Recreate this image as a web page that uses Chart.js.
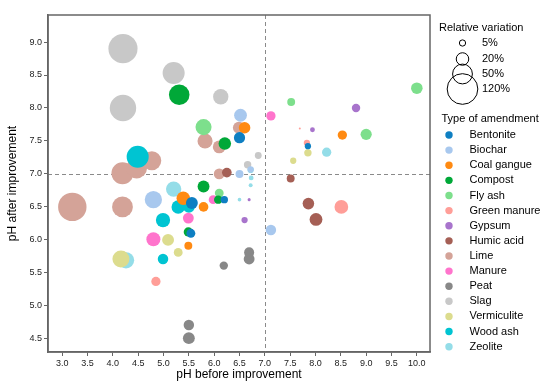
<!DOCTYPE html>
<html>
<head>
<meta charset="utf-8">
<script src="https://cdn.jsdelivr.net/npm/chart.js@4.4.1/dist/chart.umd.min.js"></script>
<style>
html,body{margin:0;padding:0;background:#fff;}
#wrap{width:550px;height:386px;position:relative;}
</style>
</head>
<body>
<div id="wrap"><canvas id="c" width="550" height="386"></canvas></div>
<script>
// [pH before, pH after, relative variation %]
const amendments = ['Bentonite','Biochar','Coal gangue','Compost','Fly ash','Green manure','Gypsum','Humic acid','Lime','Manure','Peat','Slag','Vermiculite','Wood ash','Zeolite'];
const colors = ['#0e7fc2','#a8c8ee','#ff8a12','#00a838','#7ddf8c','#ff9e98','#a874cc','#a55f55','#d4a398','#ff74cc','#888888','#c8c8c8','#dcdc8e','#00c4d2','#94dde8'];

const bentonite = [[6.5,7.55,16],[7.85,7.42,-5],[5.56,6.56,18],[6.2,6.61,7],[5.54,6.10,10]];
const biochar = [[6.52,7.89,21],[6.5,7.0,8],[4.8,6.61,38],[6.72,7.07,5],[7.12,6.15,-14]];
const coalGangue = [[6.6,7.7,17],[8.53,7.59,-11],[5.39,6.63,23],[5.79,6.5,12],[5.49,5.91,8]];
const compost = [[5.31,8.2,54],[6.21,7.46,20],[5.79,6.81,18],[6.08,6.61,9],[5.49,6.12,11]];
const flyAsh = [[5.79,7.71,33],[6.1,6.71,10],[7.52,8.09,8],[10.0,8.3,-17],[9.0,7.6,-16]];
const greenManure = [[8.51,6.5,-24],[4.85,5.37,11],[7.83,7.47,-5],[7.69,7.69,0.4]];
const gypsum = [[8.8,8.0,-9],[7.94,7.67,-3],[6.6,6.3,-5],[6.69,6.61,-1.2]];
const humicAcid = [[6.25,7.02,12],[7.51,6.93,-8],[7.86,6.55,-17],[8.01,6.31,-21]];
const lime = [[4.19,7.01,62],[4.47,7.09,55],[4.77,7.2,45],[3.2,6.5,103],[4.19,6.5,55],[5.82,7.5,29],[6.1,7.41,21],[6.49,7.7,19],[6.1,7.0,15]];
const manure = [[7.12,7.88,11],[5.98,6.61,10],[5.49,6.33,15],[4.8,6.01,25]];
const peat = [[6.69,5.81,-13],[6.69,5.71,-15],[6.19,5.61,-9],[5.5,4.71,-14],[5.5,4.51,-18]];
const slag = [[4.2,8.9,108],[4.2,8.0,89],[5.2,8.53,62],[6.13,8.17,30],[6.87,7.28,6],[6.66,7.14,7]];
const vermiculite = [[4.16,5.71,37],[5.09,6.0,18],[5.29,5.81,10],[7.85,7.32,-7],[7.56,7.2,-5]];
const woodAsh = [[4.49,7.26,62],[4.99,6.3,26],[4.99,5.71,14],[5.29,6.5,23],[5.5,6.5,18]];
const zeolite = [[5.2,6.77,30],[4.26,5.69,34],[8.22,7.33,-11],[6.72,7.06,5],[6.73,6.94,3],[6.72,6.83,2],[6.5,6.61,1.7]];

const seriesData = [bentonite,biochar,coalGangue,compost,flyAsh,greenManure,gypsum,humicAcid,lime,manure,peat,slag,vermiculite,woodAsh,zeolite];

const xTicks = [3.0,3.5,4.0,4.5,5.0,5.5,6.0,6.5,7.0,7.5,8.0,8.5,9.0,9.5,10.0];
const yTicks = [4.5,5.0,5.5,6.0,6.5,7.0,7.5,8.0,8.5,9.0];
const sizeLegendValues = [5,20,50,120];
const sizeLegendLabels = ['5%','20%','50%','120%'];
const refX = 7.0, refY = 7.0;

const FONT = "'Liberation Sans', Arial, sans-serif";
function radiusFor(v){ return Math.max(1, 1.4*Math.sqrt(Math.abs(v))); }

const datasets = seriesData.map((pts,i)=>({
  label: amendments[i],
  data: pts.map(p=>({x:p[0], y:p[1], r:radiusFor(p[2])})),
  backgroundColor: colors[i],
  borderWidth: 0,
  hoverBorderWidth: 0,
  order: amendments[i]==='Lime' ? 1 : 0
}));

const framePlugin = {
  id:'frame',
  beforeDatasetsDraw(chart){
    const {ctx, chartArea:a, scales:{x,y}} = chart;
    ctx.save();
    ctx.strokeStyle='#8a8a8a'; ctx.lineWidth=1; ctx.setLineDash([4,3]);
    const px = Math.round(x.getPixelForValue(refX))+0.5;
    const py = Math.round(y.getPixelForValue(refY))+0.5;
    ctx.beginPath(); ctx.moveTo(px,a.top); ctx.lineTo(px,a.bottom); ctx.stroke();
    ctx.beginPath(); ctx.moveTo(a.left,py); ctx.lineTo(a.right,py); ctx.stroke();
    ctx.restore();
  },
  afterDraw(chart){
    const {ctx, chartArea:a} = chart;
    ctx.save();
    ctx.strokeStyle='#666'; ctx.lineWidth=1.5; ctx.setLineDash([]);
    ctx.strokeRect(a.left, a.top, a.right-a.left, a.bottom-a.top);
    // legend
    ctx.fillStyle='#000'; ctx.textBaseline='middle'; ctx.textAlign='left';
    ctx.font = '11px '+FONT;
    ctx.fillText('Relative variation', 439, 28);
    const sy = [43,59,74,89];
    ctx.strokeStyle='#000'; ctx.lineWidth=1;
    sizeLegendValues.forEach((v,i)=>{
      ctx.beginPath(); ctx.arc(462.5, sy[i], radiusFor(v), 0, Math.PI*2); ctx.stroke();
      ctx.fillText(sizeLegendLabels[i], 482, sy[i]);
    });
    ctx.fillText('Type of amendment', 441.5, 118.5);
    chart.data.datasets.forEach((ds,i)=>{
      const yy = 135 + i*15.12;
      ctx.fillStyle = ds.backgroundColor;
      ctx.beginPath(); ctx.arc(449, yy, 3.7, 0, Math.PI*2); ctx.fill();
      ctx.fillStyle='#000';
      ctx.fillText(ds.label, 469.5, yy);
    });
    ctx.restore();
  }
};

new Chart(document.getElementById('c'), {
  type:'bubble',
  data:{datasets},
  options:{
    responsive:false,
    animation:false,
    devicePixelRatio:1,
    layout:{padding:{top:15,right:120,left:0,bottom:0}},
    plugins:{legend:{display:false}, tooltip:{enabled:false}},
    scales:{
      x:{
        type:'linear', min:2.72, max:10.26,
        afterBuildTicks(s){ s.ticks = xTicks.map(v=>({value:v})); },
        afterFit(s){ s.height = 34; },
        ticks:{callback:v=>Number(v).toFixed(1), font:{size:9, family:FONT}, color:'#222', padding:2, maxRotation:0, autoSkip:false},
        grid:{display:true, drawOnChartArea:false, drawTicks:true, tickLength:4, color:'#666'},
        border:{display:true, color:'#666', width:1.5},
        title:{display:true, text:'pH before improvement', font:{size:12, family:FONT}, color:'#000', padding:{top:0,bottom:4}}
      },
      y:{
        type:'linear', min:4.30, max:9.41,
        afterBuildTicks(s){ s.ticks = yTicks.map(v=>({value:v})); },
        afterFit(s){ s.width = 48; },
        ticks:{callback:v=>Number(v).toFixed(1), font:{size:9, family:FONT}, color:'#222', padding:2, autoSkip:false},
        grid:{display:true, drawOnChartArea:false, drawTicks:true, tickLength:4, color:'#666'},
        border:{display:true, color:'#666', width:1.5},
        title:{display:true, text:'pH after improvement', font:{size:12, family:FONT}, color:'#000', padding:{top:5,bottom:0}}
      }
    }
  },
  plugins:[framePlugin]
});
</script>
</body>
</html>
